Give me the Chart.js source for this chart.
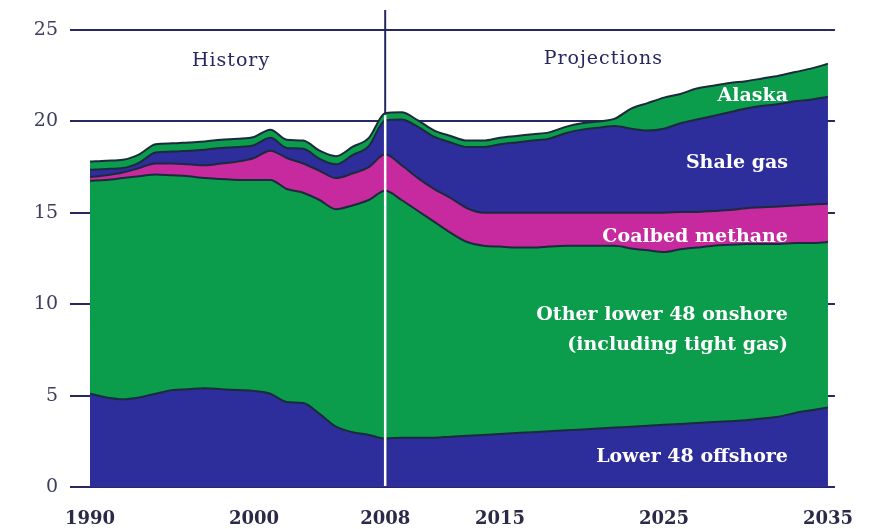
<!DOCTYPE html>
<html>
  <head>
    <meta charset="utf-8" />
    <title>Natural gas production by source</title>
    <style>
      html, body { margin: 0; padding: 0; background: #ffffff; }
      #wrap { width: 875px; height: 529px; }
    </style>
  </head>
  <body>
    <div id="wrap"><canvas id="chart" width="875" height="529"></canvas></div>
    <script src="https://cdn.jsdelivr.net/npm/chart.js@4.4.1/dist/chart.umd.min.js"></script>
    <script>
      const years = [];
      for (let y = 1990; y <= 2035; y++) years.push(y);

      const offshore = [5.1, 4.9, 4.8, 4.9, 5.1, 5.3, 5.35, 5.4, 5.35, 5.3,
        5.25, 5.1, 4.65, 4.6, 4.0, 3.3, 3.0, 2.85, 2.65, 2.7,
        2.7, 2.7, 2.75, 2.8, 2.85, 2.9, 2.95, 3.0, 3.05, 3.1,
        3.15, 3.2, 3.25, 3.3, 3.35, 3.4, 3.45, 3.5, 3.55, 3.6,
        3.65, 3.75, 3.85, 4.05, 4.2, 4.35];
      const onshore = [11.65, 11.9, 12.1, 12.1, 12.0, 11.75, 11.65, 11.5, 11.5, 11.5,
        11.55, 11.7, 11.65, 11.5, 11.7, 11.9, 12.4, 12.85, 13.55, 13.0,
        12.4, 11.8, 11.15, 10.6, 10.35, 10.25, 10.15, 10.1, 10.1, 10.1,
        10.05, 10.0, 9.95, 9.75, 9.6, 9.45, 9.55, 9.6, 9.65, 9.65,
        9.65, 9.55, 9.45, 9.3, 9.15, 9.05];
      const coalbed = [0.2, 0.25, 0.3, 0.45, 0.6, 0.65, 0.65, 0.7, 0.85, 1.0,
        1.2, 1.6, 1.7, 1.6, 1.6, 1.7, 1.75, 1.8, 2.0, 1.9,
        1.8, 1.8, 1.9, 1.85, 1.8, 1.85, 1.9, 1.9, 1.85, 1.8,
        1.8, 1.8, 1.8, 1.95, 2.05, 2.15, 2.05, 1.95, 1.9, 1.9,
        1.95, 2.0, 2.05, 2.05, 2.1, 2.1];
      const shale = [0.4, 0.35, 0.25, 0.3, 0.6, 0.65, 0.75, 0.85, 0.85, 0.8,
        0.7, 0.7, 0.55, 0.8, 0.65, 0.75, 1.0, 1.15, 1.85, 2.5,
        2.8, 2.85, 3.05, 3.35, 3.6, 3.75, 3.85, 3.95, 4.05, 4.35,
        4.55, 4.65, 4.75, 4.6, 4.5, 4.6, 4.85, 5.05, 5.2, 5.35,
        5.45, 5.55, 5.6, 5.7, 5.75, 5.85];
      const alaska = [0.45, 0.45, 0.45, 0.45, 0.45, 0.45, 0.45, 0.45, 0.45, 0.45,
        0.45, 0.45, 0.45, 0.45, 0.45, 0.45, 0.45, 0.45, 0.4, 0.4,
        0.35, 0.35, 0.35, 0.35, 0.35, 0.35, 0.35, 0.35, 0.35, 0.35,
        0.35, 0.35, 0.4, 1.1, 1.5, 1.7, 1.6, 1.7, 1.65, 1.6,
        1.5, 1.5, 1.55, 1.6, 1.7, 1.8];

      const xTicks = [1990, 2000, 2008, 2015, 2025, 2035];
      const yGridLines = [20, 25];
      const splitYear = 2008;

      const BLUE = "#2d2e9b";
      const GREEN = "#0b9c4c";
      const MAGENTA = "#c72a9f";
      const EDGE = "#1b2a3c";
      const NAVY = "#26285e";
      const SERIF = "'DejaVu Serif', serif";

      function series(label, values, color, fill) {
        return {
          label: label,
          data: years.map((y, i) => ({ x: y, y: values[i] })),
          backgroundColor: color,
          borderColor: EDGE,
          borderWidth: 2,
          fill: fill,
          pointRadius: 0,
          cubicInterpolationMode: "monotone",
        };
      }

      const overlay = {
        id: "overlay",
        beforeDatasetsDraw(chart) {
          const ctx = chart.ctx;
          const xs = chart.scales.x;
          const area = chart.chartArea;
          const x = xs.getPixelForValue(splitYear);
          ctx.save();
          ctx.strokeStyle = NAVY;
          ctx.lineWidth = 2;
          ctx.beginPath();
          ctx.moveTo(x, area.top - 20);
          ctx.lineTo(x, area.bottom);
          ctx.stroke();
          ctx.restore();
        },
        afterDatasetsDraw(chart) {
          const ctx = chart.ctx;
          const xs = chart.scales.x;
          const ys = chart.scales.y;
          const area = chart.chartArea;
          const i = years.indexOf(splitYear);
          const total = offshore[i] + onshore[i] + coalbed[i] + shale[i] + alaska[i];
          const x = xs.getPixelForValue(splitYear);
          ctx.save();
          ctx.strokeStyle = "#ffffff";
          ctx.lineWidth = 2.5;
          ctx.beginPath();
          ctx.moveTo(x, ys.getPixelForValue(total) + 2);
          ctx.lineTo(x, area.bottom - 1);
          ctx.stroke();

          ctx.textBaseline = "middle";
          ctx.fillStyle = NAVY;
          ctx.font = "19px " + SERIF;
          ctx.letterSpacing = "1px";
          ctx.textAlign = "center";
          ctx.fillText("History", xs.getPixelForValue(1998.6), ys.getPixelForValue(23.3));
          ctx.fillText("Projections", xs.getPixelForValue(2021.3), ys.getPixelForValue(23.4));

          ctx.fillStyle = "#ffffff";
          ctx.font = "bold 19px " + SERIF;
          ctx.letterSpacing = "0px";
          ctx.textAlign = "right";
          const rx = area.right - 40;
          const labels = [
            ["Alaska", 21.4],
            ["Shale gas", 17.7],
            ["Coalbed methane", 13.7],
            ["Other lower 48 onshore", 9.4],
            ["(including tight gas)", 7.75],
            ["Lower 48 offshore", 1.65],
          ];
          labels.forEach((l) => ctx.fillText(l[0], rx, ys.getPixelForValue(l[1])));
          ctx.restore();
        },
      };

      const ctx = document.getElementById("chart").getContext("2d");
      const myChart = new Chart(ctx, {
        type: "line",
        data: {
          datasets: [
            series("Lower 48 offshore", offshore, BLUE, "origin"),
            series("Other lower 48 onshore (including tight gas)", onshore, GREEN, "-1"),
            series("Coalbed methane", coalbed, MAGENTA, "-1"),
            series("Shale gas", shale, BLUE, "-1"),
            series("Alaska", alaska, GREEN, "-1"),
          ],
        },
        options: {
          responsive: false,
          animation: false,
          layout: { padding: { top: 30, left: 0, right: 0, bottom: 0 } },
          plugins: {
            legend: { display: false },
            tooltip: { enabled: false },
          },
          scales: {
            x: {
              type: "linear",
              min: 1990,
              max: 2035,
              afterBuildTicks: (s) => { s.ticks = xTicks.map((v) => ({ value: v })); },
              afterFit: (s) => { s.height = 42; },
              grid: { display: true, drawOnChartArea: false, drawTicks: false },
              border: { display: true, color: NAVY, width: 2 },
              ticks: {
                padding: 22,
                color: "#2a2a48",
                font: { family: "DejaVu Serif", size: 18, weight: "bold" },
                maxRotation: 0,
                callback: (v) => String(v),
              },
            },
            y: {
              stacked: true,
              min: 0,
              max: 25,
              afterFit: (s) => { s.width = 90; },
              ticks: {
                stepSize: 5,
                padding: 12,
                color: "#3d3d5e",
                font: { family: "DejaVu Serif", size: 19 },
              },
              grid: {
                color: (c) => (yGridLines.includes(c.tick.value) ? NAVY : "rgba(0,0,0,0)"),
                tickColor: NAVY,
                lineWidth: 2,
                tickLength: 20,
              },
              border: { display: false },
            },
            yRight: {
              position: "right",
              min: 0,
              max: 25,
              afterFit: (s) => { s.width = 28; },
              ticks: { stepSize: 5, display: false },
              grid: { drawOnChartArea: false, tickColor: NAVY, lineWidth: 2, tickLength: 7 },
              border: { display: false },
            },
          },
        },
        plugins: [overlay],
      });
    </script>
  </body>
</html>
